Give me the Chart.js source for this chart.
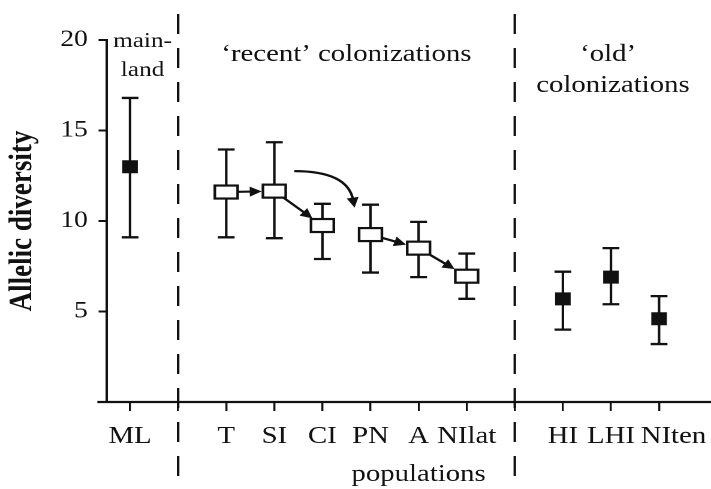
<!DOCTYPE html>
<html><head><meta charset="utf-8">
<script src="https://cdn.jsdelivr.net/npm/chart.js@4/dist/chart.umd.min.js"></script>
<style>
html,body{margin:0;padding:0;background:#fff;overflow:hidden;width:711px;height:489px}
#wrap{position:absolute;left:0;top:0;width:593px;height:489px;transform:scaleX(1.19899);transform-origin:0 0}
</style>
</head><body><div id="wrap"><canvas id="c"></canvas></div>
<script>
// ---- data ----
const categories = ['ML', '', 'T', 'SI', 'CI', 'PN', 'A', 'NIlat', '', 'HI', 'LHI', 'NIten'];
const populations = ['ML', 'T', 'SI', 'CI', 'PN', 'A', 'NIlat', 'HI', 'LHI', 'NIten'];
const groups = ['mainland', 'recent', 'recent', 'recent', 'recent', 'recent', 'recent', 'old', 'old', 'old'];
const meanDiversity = [13.0, 11.6, 11.65, 9.75, 9.25, 8.5, 6.95, 5.7, 6.9, 4.6];
const lowerBound = [9.1, 9.1, 9.05, 7.9, 7.15, 6.9, 5.7, 4.0, 5.4, 3.2];
const upperBound = [16.8, 13.95, 14.35, 10.95, 10.9, 9.95, 8.2, 7.2, 8.5, 5.85];
const yTicks = [0, 5, 10, 15, 20];
const colonizationArrows = [['T', 'SI', false], ['SI', 'CI', false], ['SI', 'PN', true], ['PN', 'A', false], ['A', 'NIlat', false]];

const ink = '#111';
const serif = '"Liberation Serif", "Times New Roman", serif';

function pointsOf(pred) {
  return populations.map((p, i) => ({ p, i })).filter(o => pred(groups[o.i]))
    .map(o => ({ x: categories.indexOf(o.p), y: meanDiversity[o.i] }));
}
const recentData = pointsOf(g => g === 'recent');
const filledData = pointsOf(g => g !== 'recent');

function centre(chart, name) {
  const i = populations.indexOf(name);
  return { x: chart.scales.x.getPixelForValue(categories.indexOf(name)), y: chart.scales.y.getPixelForValue(meanDiversity[i]) };
}

function arrowHead(ctx, x2, y2, ux, uy) {
  const hl = 10, hw = 5;
  const bx = x2 - ux * hl, by = y2 - uy * hl;
  ctx.beginPath();
  ctx.moveTo(x2, y2);
  ctx.lineTo(bx - uy * hw, by + ux * hw);
  ctx.lineTo(bx + uy * hw, by - ux * hw);
  ctx.closePath();
  ctx.fill();
}

const BW = 9.5, BH = 6.5; // half-size of open boxes
const labelNudge = { NIten: 12 }; // label sits right of its tick in the reference

const deco = {
  id: 'deco',
  beforeDatasetsDraw(chart) {
    const { ctx, chartArea: a, scales: { x, y } } = chart;
    ctx.save();
    ctx.strokeStyle = ink;
    // dashed separators
    ctx.lineWidth = 2.1;
    ctx.setLineDash([20, 14]);
    categories.forEach((c, i) => {
      if (c === '') {
        const px = x.getPixelForValue(i);
        ctx.beginPath(); ctx.moveTo(px, 14); ctx.lineTo(px, chart.height); ctx.stroke();
      }
    });
    ctx.setLineDash([]);
    // x axis line
    ctx.lineWidth = 2.2;
    ctx.beginPath(); ctx.moveTo(a.left - 8, a.bottom); ctx.lineTo(a.right, a.bottom); ctx.stroke();
    // error bars
    populations.forEach((p, i) => {
      const px = x.getPixelForValue(categories.indexOf(p));
      const yl = y.getPixelForValue(lowerBound[i]);
      const yh = y.getPixelForValue(upperBound[i]);
      ctx.lineWidth = 2.1;
      ctx.beginPath(); ctx.moveTo(px, yl); ctx.lineTo(px, yh); ctx.stroke();
      ctx.lineWidth = 2.3;
      ctx.beginPath();
      ctx.moveTo(px - 7, yl); ctx.lineTo(px + 7, yl);
      ctx.moveTo(px - 7, yh); ctx.lineTo(px + 7, yh);
      ctx.stroke();
    });
    ctx.restore();
  },
  afterDatasetsDraw(chart) {
    const { ctx, chartArea: a, scales: { x } } = chart;
    ctx.save();
    ctx.strokeStyle = ink; ctx.fillStyle = ink;
    // open boxes for recent colonizations (at the library's point positions)
    const meta = chart.getDatasetMeta(0);
    meta.data.forEach(el => {
      ctx.fillStyle = '#fff';
      ctx.fillRect(el.x - BW, el.y - BH, 2 * BW, 2 * BH);
      ctx.lineWidth = 2.2;
      ctx.strokeRect(el.x - BW, el.y - BH, 2 * BW, 2 * BH);
    });
    ctx.fillStyle = ink;
    // arrows
    colonizationArrows.forEach(([from, to, curved]) => {
      const s = centre(chart, from), e = centre(chart, to);
      ctx.lineWidth = 2.2;
      if (!curved) {
        const dx = e.x - s.x, dy = e.y - s.y;
        const t0 = Math.min(BW / Math.abs(dx), dy === 0 ? Infinity : BH / Math.abs(dy));
        const L = Math.hypot(dx, dy), ux = dx / L, uy = dy / L;
        const x1 = s.x + dx * t0 + ux * 0.5, y1 = s.y + dy * t0 + uy * 0.5;
        const x2 = e.x - dx * t0 - ux * 1, y2 = e.y - dy * t0 - uy * 1;
        ctx.beginPath(); ctx.moveTo(x1, y1); ctx.lineTo(x2 - ux * 8, y2 - uy * 8); ctx.stroke();
        arrowHead(ctx, x2, y2, ux, uy);
      } else {
        const x1 = s.x + 16.7, y1 = s.y - 20;
        const x2 = e.x - 13.3, y2 = e.y - 27;
        const cx = x2 - 6, cy = y1;
        const dx = x2 - cx, dy = y2 - cy, L = Math.hypot(dx, dy), ux = dx / L, uy = dy / L;
        ctx.beginPath(); ctx.moveTo(x1, y1); ctx.quadraticCurveTo(cx, cy, x2 - ux * 8, y2 - uy * 8); ctx.stroke();
        arrowHead(ctx, x2, y2, ux, uy);
      }
    });
    // category labels under the x axis
    ctx.textAlign = 'center'; ctx.textBaseline = 'alphabetic';
    ctx.font = '24px ' + serif;
    categories.forEach((c, i) => {
      if (c) ctx.fillText(c, x.getPixelForValue(i) + (labelNudge[c] || 0), a.bottom + 41);
    });
    // group annotations
    const sep = categories.map((c, i) => c === '' ? x.getPixelForValue(i) : null).filter(v => v !== null);
    ctx.font = '21px ' + serif;
    const mx = (a.left + sep[0]) / 2;
    ctx.fillText('main-', mx, 47);
    ctx.fillText('land', mx, 76);
    ctx.font = '24px ' + serif;
    ctx.fillText('\u2018recent\u2019 colonizations', (sep[0] + sep[1]) / 2, 61);
    const ox = (sep[1] + a.right) / 2;
    ctx.fillText('\u2018old\u2019', ox - 4, 61);
    ctx.fillText('colonizations', ox, 92);
    ctx.fillText('populations', x.getPixelForValue(categories.indexOf('A')), 481);
    ctx.restore();
  }
};

new Chart(document.getElementById('c'), {
  type: 'scatter',
  data: {
    datasets: [
      { label: 'recent colonizations', data: recentData, pointRadius: 0, pointHoverRadius: 0, showLine: false },
      { label: 'mainland / old colonizations', data: filledData, pointStyle: 'rect', pointRadius: 9.2, pointHoverRadius: 9.2,
        backgroundColor: ink, borderColor: ink, borderWidth: 0, showLine: false }
    ]
  },
  options: {
    responsive: true, maintainAspectRatio: false, animation: false, devicePixelRatio: 2, events: [],
    layout: { autoPadding: false, padding: { top: 40, left: 0, right: 0, bottom: 0 } },
    plugins: { legend: { display: false }, tooltip: { enabled: false } },
    scales: {
      x: {
        type: 'linear', position: 'bottom', min: -0.48, max: 12.08,
        afterBuildTicks(s) { s.ticks = categories.map((c, i) => ({ value: i })); },
        afterFit(s) { s.height = 87; },
        ticks: { display: false, autoSkip: false, maxRotation: 0, minRotation: 0, callback: v => categories[v] },
        grid: { drawOnChartArea: false, drawTicks: true, tickLength: 9, color: ink, lineWidth: 1.7 },
        border: { display: false }
      },
      y: {
        min: 0, max: 20,
        afterBuildTicks(s) { s.ticks = yTicks.map(v => ({ value: v })); },
        afterFit(s) { s.width = 89.2; },
        ticks: { padding: 9, color: ink, font: { family: serif, size: 23 }, callback: v => v === 0 ? '' : String(v) },
        grid: { drawOnChartArea: false, drawTicks: true, tickLength: 7, color: ink, lineWidth: 2 },
        border: { display: true, color: ink, width: 2 },
        title: { display: true, text: 'Allelic diversity', color: ink,
          font: { family: serif, size: 27, weight: 'bold' }, padding: { top: 3, bottom: 0 } }
      }
    }
  },
  plugins: [deco]
});
</script>
</body></html>
